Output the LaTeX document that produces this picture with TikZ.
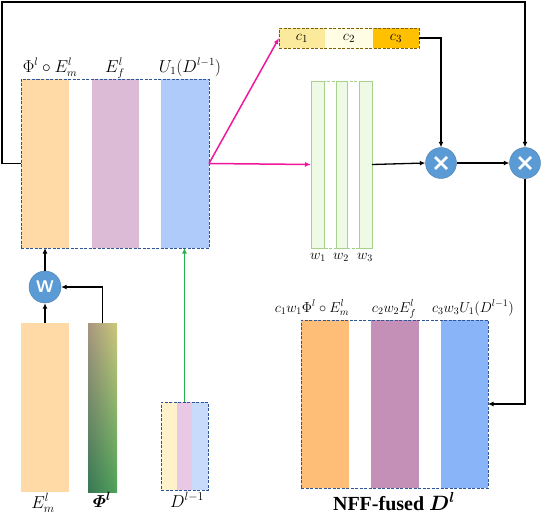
\documentclass[tikz,border=0pt]{standalone}
\usepackage{amsmath}
\usepackage{bm}
\usepackage{fontspec}
\newfontfamily\timesf{Liberation Serif}
\usetikzlibrary{arrows.meta,shadings}
\definecolor{orA}{HTML}{FFD9A6}
\definecolor{puA}{HTML}{DCBBD6}
\definecolor{blA}{HTML}{AECBFA}
\definecolor{orB}{HTML}{FFBE78}
\definecolor{puB}{HTML}{C490B8}
\definecolor{blB}{HTML}{8AB4F8}
\definecolor{orC}{HTML}{FFF1C9}
\definecolor{puC}{HTML}{E9C8E6}
\definecolor{blC}{HTML}{C8DBFA}
\definecolor{cA}{HTML}{FBEA9C}
\definecolor{cB}{HTML}{FFFDE3}
\definecolor{cC}{HTML}{FFC000}
\definecolor{cBorder}{HTML}{7F6000}
\definecolor{wFill}{HTML}{EEF9E6}
\definecolor{wLine}{HTML}{A9D18E}
\definecolor{circ}{HTML}{5B9BD5}
\definecolor{navy}{HTML}{2F5597}
\definecolor{mag}{HTML}{F0189A}
\definecolor{grn}{HTML}{22B14C}
\definecolor{phUL}{RGB}{168,150,128}
\definecolor{phUR}{RGB}{204,200,122}
\definecolor{phLL}{RGB}{56,120,84}
\definecolor{phLR}{RGB}{80,162,90}
\begin{document}
\begin{tikzpicture}[x=1pt,y=-1pt,
  fillbar/.style={draw=none,inner sep=0pt,outer sep=0pt,anchor=north west},
  dbox/.style={draw=navy,line width=0.9pt,dash pattern=on 3pt off 1.5pt,inner sep=0pt,outer sep=0pt,anchor=north west},
  arr/.style={line width=1.3pt,-{Latex[length=5.5pt,width=5pt]}},
  marr/.style={line width=1.5pt,draw=mag,-{Latex[length=6pt,width=5pt]}},
  mult/.style={circle,fill=circ,draw=circ!80!black,line width=0.4pt,minimum size=31pt,inner sep=0pt},
  lbl/.style={font=\fontsize{16}{18}\selectfont,inner sep=0pt},
  blbl/.style={font=\fontsize{17}{19}\selectfont,inner sep=0pt},
  slbl/.style={font=\fontsize{14}{16}\selectfont,inner sep=0pt}]
\useasboundingbox (0,0) rectangle (546,520);
% main box
\node[fillbar,fill=orA,minimum width=48pt,minimum height=169pt] (o1) at (21,79) {};
\node[fillbar,fill=puA,minimum width=47pt,minimum height=169pt] (p1) at (92,79) {};
\node[fillbar,fill=blA,minimum width=48pt,minimum height=169pt] (b1) at (161,79) {};
\node[dbox,minimum width=188pt,minimum height=169pt] (main) at (21,79) {};
\node[lbl,anchor=base] (lab1) at (50,72) {$\Phi^{l}\circ E_m^{l}$};
\node[lbl,anchor=base] (lab2) at (115,72) {$E_f^{l}$};
\node[lbl,anchor=base] (lab3) at (190,72) {$U_1(D^{l-1})$};
% c box
\node[fillbar,fill=cA,minimum width=46pt,minimum height=20pt,font=\fontsize{15}{16}\selectfont] (c1) at (279,28) {$c_1$};
\node[fillbar,fill=cB,minimum width=48pt,minimum height=20pt,font=\fontsize{15}{16}\selectfont] (c2) at (325,28) {$c_2$};
\node[fillbar,fill=cC,minimum width=46pt,minimum height=20pt,font=\fontsize{15}{16}\selectfont] (c3) at (373,28) {$c_3$};
\node[dbox,draw=cBorder,minimum width=140pt,minimum height=20pt] (cbox) at (279,28) {};
% w box
\node[fillbar,fill=wFill,draw=wLine,line width=0.6pt,minimum width=13pt,minimum height=167pt] (w1) at (311,81) {};
\node[fillbar,fill=wFill,draw=wLine,line width=0.6pt,minimum width=11pt,minimum height=167pt] (w2) at (336,81) {};
\node[fillbar,fill=wFill,draw=wLine,line width=0.6pt,minimum width=13pt,minimum height=167pt] (w3) at (359,81) {};
\node[dbox,draw=wLine,minimum width=61pt,minimum height=167pt] (wbox) at (311,81) {};
\node[slbl,anchor=base] (wl1) at (318,259) {$w_1$};
\node[slbl,anchor=base] (wl2) at (341,259) {$w_2$};
\node[slbl,anchor=base] (wl3) at (365,259) {$w_3$};
% multipliers
\node[mult] (m1) at (441,163) {};
\node[mult] (m2) at (525,163) {};
\foreach \m in {m1,m2}{
  \draw[white,line width=2.6pt] ([xshift=-6pt,yshift=-6pt]\m.center) -- ([xshift=6pt,yshift=6pt]\m.center);
  \draw[white,line width=2.6pt] ([xshift=-6pt,yshift=6pt]\m.center) -- ([xshift=6pt,yshift=-6pt]\m.center);
}
% NFF box
\node[fillbar,fill=orB,minimum width=48pt,minimum height=168pt] (no1) at (301,320) {};
\node[fillbar,fill=puB,minimum width=48pt,minimum height=168pt] (np1) at (371,320) {};
\node[fillbar,fill=blB,minimum width=47pt,minimum height=168pt] (nb1) at (441,320) {};
\node[dbox,minimum width=187pt,minimum height=168pt] (nff) at (301,320) {};
\node[slbl,anchor=base] (nl1) at (312,312) {$c_1w_1\Phi^{l}\circ E_m^{l}$};
\node[slbl,anchor=base] (nl2) at (394,312) {$c_2w_2E_f^{l}$};
\node[slbl,anchor=base] (nl3) at (473,312) {$c_3w_3U_1(D^{l-1})$};
\node[anchor=base,inner sep=0pt,font=\timesf\bfseries\fontsize{20}{22}\selectfont] (nfft) at (394,510) {NFF-fused $\bm{D^{l}}$};
% bottom left
\node[fillbar,fill=orA,minimum width=48pt,minimum height=169pt] (em) at (21,323) {};
\node[fillbar,upper left=phUL,upper right=phUR,lower left=phLL,lower right=phLR,minimum width=29pt,minimum height=169pt] (phi) at (88,323) {};
\node[circle,fill=circ,draw=circ!80!black,line width=0.4pt,minimum size=32pt,inner sep=0pt,text=white,font=\sffamily\bfseries\fontsize{17}{18}\selectfont] (wc) at (45,287) {W};
\node[fillbar,fill=orC,minimum width=16pt,minimum height=88pt] (d1) at (161,402) {};
\node[fillbar,fill=puC,minimum width=15pt,minimum height=88pt] (d2) at (177,402) {};
\node[fillbar,fill=blC,minimum width=16pt,minimum height=88pt] (d3) at (192,402) {};
\node[dbox,minimum width=47pt,minimum height=88pt] (dbx) at (161,402) {};
\node[blbl,anchor=base] (bl1) at (43,508) {$E_m^{l}$};
\node[blbl,anchor=base] (bl2) at (102,507) {$\bm{\varPhi^{l}}$};
\node[blbl,anchor=base] (bl3) at (187,507) {$D^{l-1}$};
% connectors
\coordinate (tl) at (2,2);
\draw[arr] (main.west) -| (tl) -| (m2.north);
\draw[marr] (main.east) -- (cbox.west);
\draw[marr] (main.east) -- (wbox.west);
\draw[arr] (cbox.east) -| (m1.north);
\draw[arr] (wbox.east) -- (m1.west);
\draw[arr] (m1.east) -- (m2.west);
\draw[arr] (m2.south) |- (nff.east);
\draw[arr] (em.north) -- (wc.south);
\draw[arr] (phi.north) |- (wc.east);
\draw[arr] (wc.north) -- (main.south -| wc.north);
\draw[arr,draw=grn] (dbx.north) -- (dbx.north |- main.south);
\end{tikzpicture}
\end{document}
